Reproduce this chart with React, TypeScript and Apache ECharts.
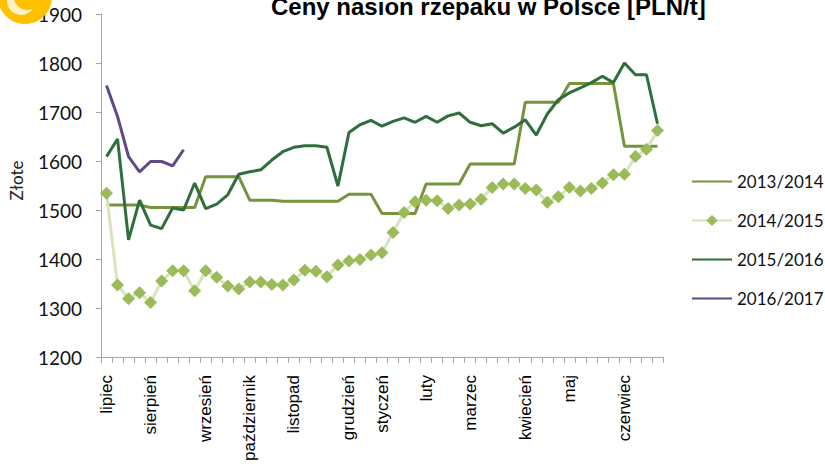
import React, { useEffect, useRef } from "react";
import * as echarts from "echarts";

// Weekly categories (51 notowań, lipiec – czerwiec)
const weeks: string[] = Array.from({ length: 51 }, (_, i) => String(i + 1));
const monthNames = ["lipiec", "sierpień", "wrzesień", "październik", "listopad", "grudzień", "styczeń", "luty", "marzec", "kwiecień", "maj", "czerwiec"];
const monthStartIdx = [0, 4, 9, 13, 17, 22, 25, 29, 33, 38, 42, 47];

const s1314 = [
  1510, 1510, 1510, 1510, 1505, 1505, 1505, 1505, 1505, 1568, 1568, 1568, 1568,
  1520, 1520, 1520, 1518, 1518, 1518, 1518, 1518, 1518, 1532, 1532, 1532,
  1493, 1493, 1493, 1493, 1553, 1553, 1553, 1553, 1594, 1594, 1594, 1594, 1594,
  1720, 1720, 1720, 1720, 1758, 1758, 1758, 1758, 1758, 1630, 1630, 1630, 1630,
];
const s1415 = [
  1534, 1347, 1319, 1331, 1311, 1355, 1376, 1376, 1335, 1376, 1363, 1345, 1339,
  1353, 1353, 1348, 1347, 1357, 1377, 1375, 1364, 1388, 1396, 1399, 1408, 1413,
  1454, 1495, 1517, 1520, 1519, 1503, 1510, 1512, 1522, 1546, 1553, 1553, 1544,
  1541, 1516, 1527, 1546, 1539, 1544, 1555, 1572, 1573, 1609, 1624, 1662,
];
const s1516 = [
  1609, 1645, 1439, 1520, 1469, 1462, 1504, 1500, 1555, 1503, 1512, 1531, 1573,
  1578, 1582, 1602, 1619, 1628, 1631, 1631, 1628, 1549, 1658, 1674, 1683, 1671,
  1681, 1688, 1679, 1691, 1679, 1692, 1698, 1679, 1672, 1676, 1657, 1669, 1684,
  1653, 1696, 1725, 1739, 1749, 1760, 1773, 1760, 1800, 1776, 1776, 1676,
];
const s1617 = [1754, 1691, 1609, 1578, 1599, 1599, 1590, 1623];

const seriesNames = ["2013/2014", "2014/2015", "2015/2016", "2016/2017"];
const titleText = "Ceny nasion rzepaku w Polsce [PLN/t]";
const yAxisName = "Złote";

export default function App() {
  const ref = useRef<HTMLDivElement>(null);
  useEffect(() => {
    if (!ref.current) return;
    const chart = echarts.init(ref.current, undefined, { renderer: "svg" });
    const monthAt: Record<number, string> = {};
    monthStartIdx.forEach((idx, k) => (monthAt[idx] = monthNames[k]));
    chart.setOption({
      animation: false,
      backgroundColor: "#ffffff",
      title: {
        text: titleText,
        left: 266,
        top: -11,
        textStyle: { fontFamily: "Liberation Sans", fontWeight: "bold", fontSize: 24, color: "#000000" },
      },
      grid: { left: 101, right: 162, top: 14, bottom: 116, containLabel: false, outerBoundsMode: "none" },
      legend: {
        orient: "vertical",
        left: 691,
        top: 173,
        padding: 0,
        itemWidth: 40,
        itemHeight: 14,
        itemGap: 22,
        textStyle: { fontFamily: "Lato", fontSize: 17, color: "#111111", width: 100, overflow: "none" },
        data: [
          { name: seriesNames[0], itemStyle: { opacity: 0 } },
          { name: seriesNames[1] },
          { name: seriesNames[2], itemStyle: { opacity: 0 } },
          { name: seriesNames[3], itemStyle: { opacity: 0 } },
        ],
      },
      xAxis: {
        type: "category",
        data: weeks,
        boundaryGap: true,
        axisLine: { lineStyle: { color: "#a6a6a6", width: 1 } },
        axisTick: { show: true, interval: 0, length: 6, lineStyle: { color: "#a6a6a6" } },
        axisLabel: {
          interval: (idx: number) => monthAt[idx] !== undefined,
          formatter: (_v: string, idx: number) => monthAt[idx] ?? "",
          rotate: 90,
          margin: 18,
          fontFamily: "Liberation Sans",
          fontSize: 17,
          color: "#000000",
        },
        splitLine: { show: false },
      },
      yAxis: {
        type: "value",
        min: 1200,
        max: 1900,
        interval: 100,
        name: yAxisName,
        nameLocation: "middle",
        nameGap: 76,
        nameRotate: 90,
        nameTextStyle: { fontFamily: "Lato", fontSize: 17, color: "#222222", padding: [0, 0, 0, 10] },
        axisLine: { show: true, lineStyle: { color: "#a6a6a6", width: 1 } },
        axisTick: { show: true, length: 5, lineStyle: { color: "#a6a6a6" } },
        axisLabel: {
          fontFamily: "Lato",
          fontSize: 19,
          color: "#111111",
          margin: 19,
          formatter: (v: number) => String(v),
        },
        splitLine: { show: false },
      },
      series: [
        {
          name: seriesNames[0],
          type: "line",
          data: s1314,
          symbol: "none",
          lineStyle: { color: "#77933c", width: 3 },
          itemStyle: { color: "#77933c" },
        },
        {
          name: seriesNames[1],
          type: "line",
          data: s1415,
          symbol: "diamond",
          symbolSize: 13,
          showAllSymbol: true,
          lineStyle: { color: "#d7e4bd", width: 3 },
          itemStyle: { color: "#9bbb59" },
        },
        {
          name: seriesNames[2],
          type: "line",
          data: s1516,
          symbol: "none",
          lineStyle: { color: "#2e6f3d", width: 3 },
          itemStyle: { color: "#2e6f3d" },
        },
        {
          name: seriesNames[3],
          type: "line",
          data: s1617,
          symbol: "none",
          lineStyle: { color: "#5f4a86", width: 3 },
          itemStyle: { color: "#5f4a86" },
        },
      ],
      graphic: [
        { type: "circle", z: 100, shape: { cx: 25, cy: -3, r: 27 }, style: { fill: "#ffc000" } },
        { type: "circle", z: 101, shape: { cx: 21, cy: 1, r: 14 }, style: { fill: "#fff2c4" } },
        { type: "circle", z: 102, shape: { cx: 27, cy: -3, r: 13 }, style: { fill: "#ffc000" } },
      ],
    });
    return () => chart.dispose();
  }, []);
  return <div ref={ref} style={{ position: "absolute", left: 0, top: 0, width: 825, height: 473 }} />;
}
